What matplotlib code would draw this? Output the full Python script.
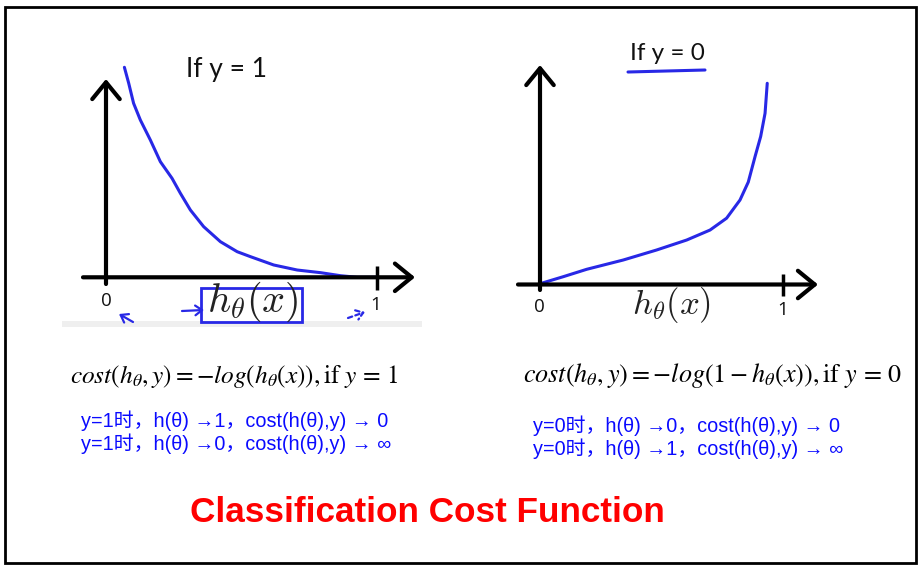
import matplotlib
matplotlib.use("Agg")
import matplotlib.pyplot as plt
from matplotlib.patches import Rectangle

W, H = 924, 572

# ---- data (h = h_theta(x), cost) ----
h_y1 = [0.068, 0.084, 0.102, 0.127, 0.164, 0.201, 0.244, 0.275, 0.312, 0.361,
        0.423, 0.485, 0.534, 0.620, 0.707, 0.793, 0.867, 0.929, 1.0]
cost_y1 = [2.625, 2.425, 2.175, 1.966, 1.716, 1.445, 1.238, 1.05, 0.841, 0.633,
           0.445, 0.32, 0.258, 0.154, 0.091, 0.058, 0.02, 0.0, 0.0]

h_y0 = [0.0, 0.096, 0.192, 0.342, 0.479, 0.603, 0.699, 0.767, 0.822, 0.856,
        0.884, 0.907, 0.925, 0.934]
cost_y0 = [0.01, 0.098, 0.19, 0.306, 0.431, 0.556, 0.681, 0.829, 1.056, 1.28,
           1.6, 1.85, 2.14, 2.515]

tick_labels = ["0", "1"]
titles = ["If y = 1", "If y = 0"]
formulas = [r"$cost(h_\theta, y) = -log(h_\theta(x)), \mathrm{if}\ y\, =\, 1$",
            r"$cost(h_\theta, y) = -log(1 - h_\theta(x)), \mathrm{if}\ y\, =\, 0$"]
notes_left = ["y=1时，h(θ) →1，cost(h(θ),y) → 0",
              "y=1时，h(θ) →0，cost(h(θ),y) → ∞"]
notes_right = ["y=0时，h(θ) →0，cost(h(θ),y) → 0",
               "y=0时，h(θ) →1，cost(h(θ),y) → ∞"]
main_title = "Classification Cost Function"

CURVE = "#2828e6"
NOTE = "#0a0aff"

fig = plt.figure(figsize=(W / 100, H / 100), dpi=100)
ax0 = fig.add_axes([0, 0, 1, 1])
ax0.set_xlim(0, W)
ax0.set_ylim(H, 0)
ax0.axis("off")


def make_axes(box, origin, x1px, cost_px=80.0):
    x0, y0, x1, y1 = box
    ax = fig.add_axes([x0 / W, 1 - y1 / H, (x1 - x0) / W, (y1 - y0) / H])
    ox, oy = origin
    sx = x1px - ox
    ax.set_xlim((x0 - ox) / sx, (x1 - ox) / sx)
    ax.set_ylim((oy - y1) / cost_px, (oy - y0) / cost_px)
    ax.axis("off")
    ax.patch.set_alpha(0)
    tx = lambda px: (px - ox) / sx
    ty = lambda py: (oy - py) / cost_px
    return ax, tx, ty


def draw_axes(ax, tx, ty, xa, ya_top, ya_bot, tick):
    arrow = dict(arrowstyle="->,head_length=0.55,head_width=0.45", lw=3,
                 color="black", mutation_scale=22, shrinkA=0, shrinkB=0)
    ax.annotate("", xy=(tx(xa[1]), 0), xytext=(tx(xa[0]), 0), arrowprops=arrow)
    ax.annotate("", xy=(0, ty(ya_top)), xytext=(0, ty(ya_bot)), arrowprops=arrow)
    ax.plot([1, 1], [ty(tick[0]), ty(tick[1])], color="black", lw=2.5,
            solid_capstyle="butt")


# left graph
axL, txL, tyL = make_axes((70, 40, 430, 330), (106.0, 277.3), 376.5)
draw_axes(axL, txL, tyL, (83, 415), 79, 284, (266, 290))
axL.plot(h_y1, cost_y1, color=CURVE, lw=2.2, solid_capstyle="round",
         solid_joinstyle="round")

# right graph
axR, txR, tyR = make_axes((505, 40, 835, 330), (540.0, 284.5), 783.3)
draw_axes(axR, txR, tyR, (518, 818), 65, 290, (274, 296))
axR.plot(h_y0, cost_y0, color=CURVE, lw=2.2, solid_capstyle="round",
         solid_joinstyle="round")

# light grey strip under left screenshot
ax0.add_patch(Rectangle((62, 321), 360, 6, color="#efefef", lw=0, zorder=0))

# tick labels
for (x, y), s in zip([(106, 301), (376, 305)], tick_labels):
    ax0.text(x, y, s, ha="center", va="center", fontsize=13.5, family="Open Sans",
             color="#111111")
for (x, y), s in zip([(539, 307), (783, 310)], tick_labels):
    ax0.text(x, y, s, ha="center", va="center", fontsize=13.5, family="Open Sans",
             color="#111111")

# h_theta(x) labels
ax0.text(253, 302, r"$h_\theta(x)$", ha="center", va="center", fontsize=29,
         math_fontfamily="cm", color="#222222")
ax0.text(672, 305, r"$h_\theta(x)$", ha="center", va="center", fontsize=25,
         math_fontfamily="cm", color="#222222")

# hand-drawn annotations (left)
ax0.add_patch(Rectangle((201, 288), 101, 34, fill=False, ec=CURVE, lw=2))
small = dict(arrowstyle="->,head_length=0.35,head_width=0.25", lw=1.6, color=CURVE,
             shrinkA=0, shrinkB=0, mutation_scale=14)
ax0.annotate("", xy=(119, 314), xytext=(133, 322), arrowprops=small)
ax0.annotate("", xy=(204, 310), xytext=(182, 311), arrowprops=small)
ax0.annotate("", xy=(365, 312), xytext=(348, 318),
             arrowprops=dict(small, linestyle=(0, (2, 1.5))))

# panel titles
ax0.text(226, 69, titles[0], ha="center", va="center", fontsize=19, family="Lato",
         color="#111111")
ax0.text(667, 53, titles[1], ha="center", va="center", fontsize=17.5, family="Lato",
         color="#111111")
ax0.plot([628, 705], [72, 70], color=CURVE, lw=2.2, solid_capstyle="round")

# formulas
ax0.text(70, 376, formulas[0], ha="left", va="center", fontsize=18.3,
         math_fontfamily="stix")
ax0.text(523, 376, formulas[1], ha="left", va="center", fontsize=18.8,
         math_fontfamily="stix")

# blue notes
fam = ["Liberation Sans", "Noto Sans CJK SC"]
for i, s in enumerate(notes_left):
    ax0.text(81, 421 + 23 * i, s, ha="left", va="center", fontsize=14.3,
             family=fam, color=NOTE)
for i, s in enumerate(notes_right):
    ax0.text(533, 426 + 23 * i, s, ha="left", va="center", fontsize=14.3,
             family=fam, color=NOTE)

# main title
ax0.text(427, 513, main_title, ha="center", va="center", fontsize=25.3,
         fontweight="bold", family="Liberation Sans", color="#ff0000")

# outer frame
ax0.add_patch(Rectangle((5, 7), 911, 556, fill=False, ec="black", lw=2))

fig.savefig("out.png", dpi=100)
